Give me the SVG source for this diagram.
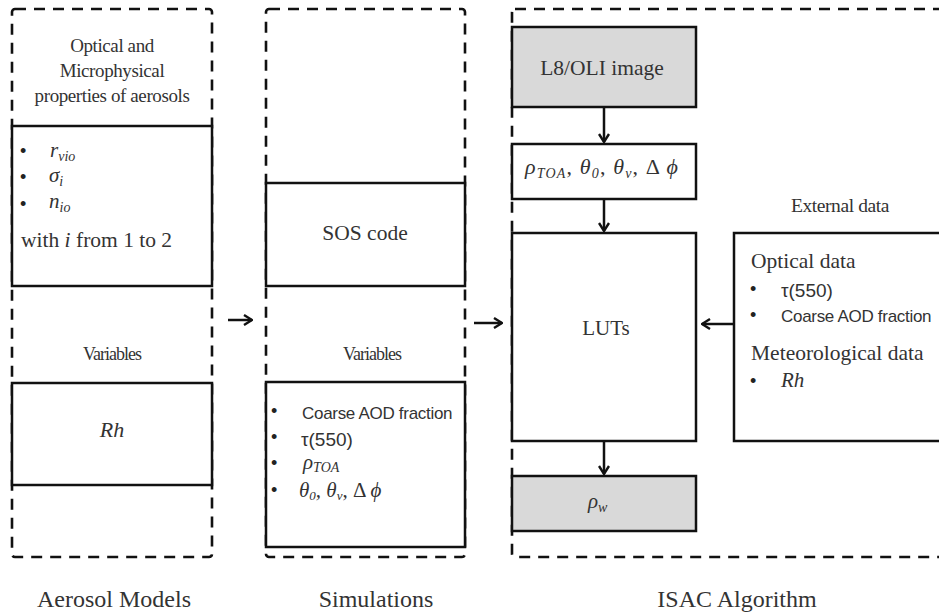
<svg xmlns="http://www.w3.org/2000/svg" width="939" height="615" viewBox="0 0 939 615">
<defs>
<marker id="ah" viewBox="0 0 12 12" refX="11" refY="6" markerWidth="12" markerHeight="12" markerUnits="userSpaceOnUse" orient="auto">
<path d="M3,1 L11,6 L3,11" fill="none" stroke="#111" stroke-width="2.4"/>
</marker>
</defs>
<style>
.cont{fill:none;stroke:#111;stroke-width:2.6;stroke-dasharray:11 8}
.box{fill:#fff;stroke:#111;stroke-width:2.5}
.gbox{fill:#d9d9d9;stroke:#111;stroke-width:2.5}
.ser{font-family:"Liberation Serif","Times New Roman",serif;fill:#333}
.san{font-family:"Liberation Sans",Arial,sans-serif;fill:#333}
.it{font-family:"Liberation Serif","Times New Roman",serif;font-style:italic;fill:#333}
.c{text-anchor:middle}
.b{font-family:"Liberation Sans",Arial,sans-serif;font-size:18px;fill:#222}
.conn{stroke:#111;stroke-width:2.5;fill:none;marker-end:url(#ah)}
</style>
<rect width="939" height="615" fill="#fff"/>

<g id="aerosol-models">
<rect class="cont" x="12" y="9" width="200" height="548" rx="3"/>
<text class="ser c" x="112" y="52" font-size="19" letter-spacing="-0.4">Optical and</text>
<text class="ser c" x="112" y="77" font-size="19" letter-spacing="-0.4">Microphysical</text>
<text class="ser c" x="112" y="102" font-size="19" letter-spacing="-0.4">properties of aerosols</text>
<rect class="box" x="12" y="126" width="200" height="160"/>
<text class="b" x="20" y="157">•</text>
<text class="it" x="50" y="157" font-size="21">r<tspan font-size="14" dy="4">vio</tspan></text>
<text class="b" x="20" y="183">•</text>
<text class="it" x="49" y="182" font-size="21">σ<tspan font-size="14" dy="4">i</tspan></text>
<text class="b" x="20" y="210">•</text>
<text class="it" x="49" y="208" font-size="21">n<tspan font-size="14" dy="4">io</tspan></text>
<text class="ser" x="21" y="247" font-size="21.5">with <tspan font-style="italic">i</tspan> from 1 to 2</text>
<text class="ser c" x="112" y="360" font-size="18" letter-spacing="-1">Variables</text>
<rect class="box" x="12" y="383" width="200" height="102"/>
<text class="it c" x="112" y="437" font-size="22">Rh</text>
<text class="ser c" x="114" y="607" font-size="24">Aerosol Models</text>
</g>

<g id="simulations">
<rect class="cont" x="266" y="9" width="199" height="548" rx="3"/>
<rect class="box" x="266" y="183" width="199" height="103"/>
<text class="ser c" x="365" y="240" font-size="21.5">SOS code</text>
<text class="ser c" x="372" y="360" font-size="18" letter-spacing="-1">Variables</text>
<rect class="box" x="266" y="382" width="199" height="165"/>
<text class="b" x="271" y="417">•</text>
<text class="san" x="302" y="419" font-size="17" letter-spacing="-0.3">Coarse AOD fraction</text>
<text class="b" x="271" y="443">•</text>
<text class="san" x="301" y="446" font-size="19">τ(550)</text>
<text class="b" x="271" y="469">•</text>
<text class="it" x="303" y="469" font-size="21">ρ<tspan font-size="14" dy="3">TOA</tspan></text>
<text class="b" x="271" y="496">•</text>
<text class="it" x="299" y="497" font-size="21">θ<tspan font-size="13" dy="3">0</tspan><tspan dy="-3">, θ</tspan><tspan font-size="13" dy="3">v</tspan><tspan dy="-3" font-style="normal">, Δ </tspan>ϕ</text>
<text class="ser c" x="376" y="607" font-size="24">Simulations</text>
</g>

<g id="isac-algorithm">
<rect class="cont" x="512" y="9" width="460" height="548" rx="3"/>
<text class="ser c" x="737" y="607" font-size="24">ISAC Algorithm</text>
</g>

<g id="l8-oli">
<rect class="gbox" x="512" y="27" width="184" height="80"/>
<text class="ser c" x="602" y="75" font-size="21.5">L8/OLI image</text>
</g>

<g id="angles">
<rect class="box" x="512" y="144" width="184" height="55"/>
<text class="it" x="525" y="174" font-size="22" textLength="153" lengthAdjust="spacing">ρ<tspan font-size="14" dy="4">TOA</tspan><tspan dy="-4" font-style="normal">, </tspan>θ<tspan font-size="14" dy="4">0</tspan><tspan dy="-4" font-style="normal">, </tspan>θ<tspan font-size="14" dy="4">v</tspan><tspan dy="-4" font-style="normal">, Δ </tspan>ϕ</text>
</g>

<g id="luts">
<rect class="box" x="512" y="233" width="184" height="208"/>
<text class="ser c" x="606" y="335" font-size="21">LUTs</text>
</g>

<g id="rho-w">
<rect class="gbox" x="512" y="476" width="184" height="55"/>
<text class="it" x="588" y="508" font-size="21">ρ<tspan font-size="14" dy="4">w</tspan></text>
</g>

<g id="external-data">
<text class="ser c" x="840" y="212" font-size="19.5" letter-spacing="-0.4">External data</text>
<rect class="box" x="734" y="233" width="230" height="208"/>
<text class="ser" x="751" y="268" font-size="21.5">Optical data</text>
<text class="b" x="750" y="295">•</text>
<text class="san" x="781" y="297" font-size="19">τ(550)</text>
<text class="b" x="750" y="321">•</text>
<text class="san" x="781" y="322" font-size="17" letter-spacing="-0.3">Coarse AOD fraction</text>
<text class="ser" x="751" y="360" font-size="21.5">Meteorological data</text>
<text class="b" x="750" y="387">•</text>
<text class="it" x="781" y="387" font-size="21">Rh</text>
</g>

<g id="connectors">
<line class="conn" x1="228" y1="320" x2="252" y2="320"/>
<line class="conn" x1="474" y1="323" x2="502" y2="323"/>
<line class="conn" x1="733" y1="324" x2="702" y2="324"/>
<line class="conn" x1="604" y1="107" x2="604" y2="142"/>
<line class="conn" x1="604" y1="199" x2="604" y2="231"/>
<line class="conn" x1="604" y1="441" x2="604" y2="474"/>
</g>
</svg>
